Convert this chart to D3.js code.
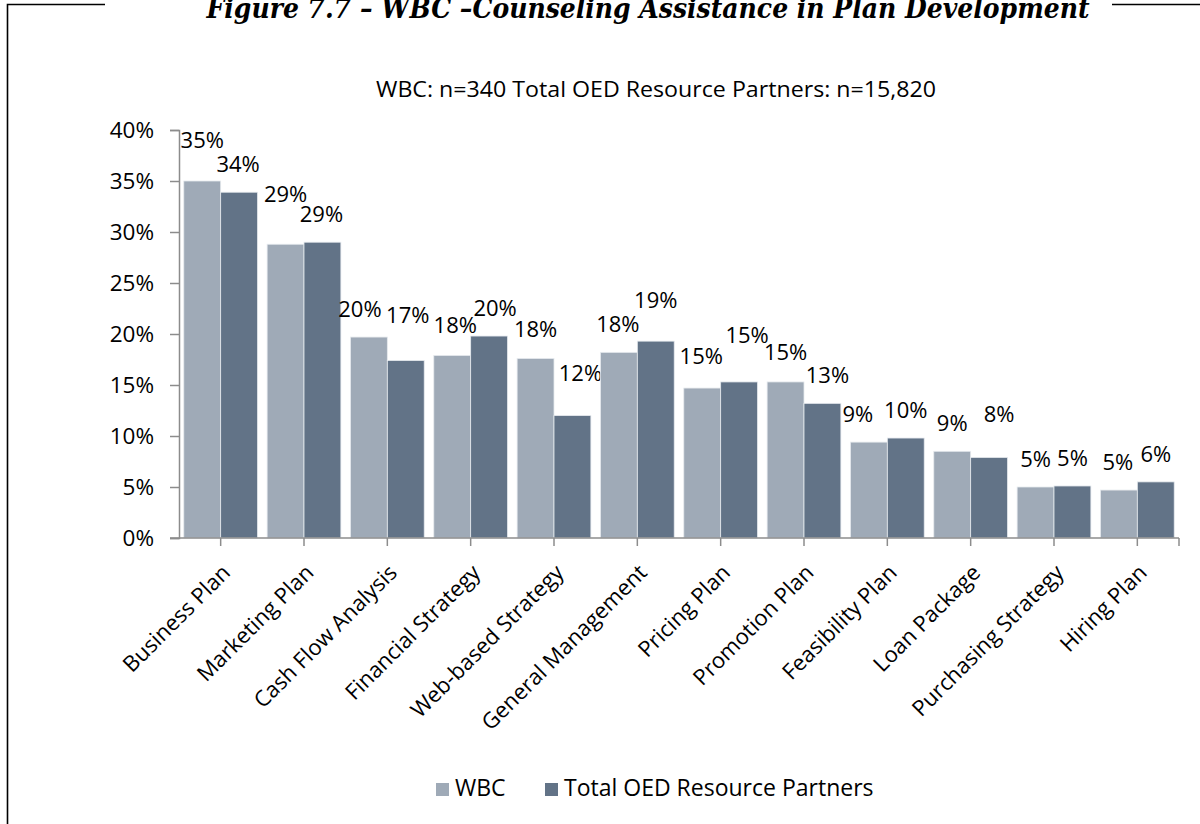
<!DOCTYPE html>
<html>
<head>
<meta charset="utf-8">
<script src="https://cdn.jsdelivr.net/npm/d3@7/dist/d3.min.js"></script>
<style>
  html, body { margin: 0; padding: 0; background: #fff; }
  svg { display: block; }
  text { font-family: "Open Sans", "Noto Sans", sans-serif; fill: #000; }
</style>
</head>
<body>
<svg id="chart" width="1200" height="824"></svg>
<script>
// Plan-development counseling shares, in percent
const categories = ["Business Plan", "Marketing Plan", "Cash Flow Analysis", "Financial Strategy",
  "Web-based Strategy", "General Management", "Pricing Plan", "Promotion Plan",
  "Feasibility Plan", "Loan Package", "Purchasing Strategy", "Hiring Plan"];
const seriesNames = ["WBC", "Total OED Resource Partners"];
const wbcValues   = [35.0, 28.8, 19.7, 17.9, 17.6, 18.2, 14.7, 15.3, 9.4, 8.5, 5.0, 4.7];
const totalValues = [33.9, 29.0, 17.4, 19.8, 12.0, 19.3, 15.3, 13.2, 9.8, 7.9, 5.1, 5.5];
const yTicks = [0, 5, 10, 15, 20, 25, 30, 35, 40];

const titleText = "Figure 7.7 \u2013 WBC \u2013Counseling Assistance in Plan Development";
const subtitleText = "WBC: n=340 Total OED Resource Partners: n=15,820";

// hand-placed data-label nudges (px) relative to the default spot above each bar
const wbcLabelShift   = [[0,-13],[0,-22],[-9,0],[3,-2],[0,-1],[-1,0],[-1,-4],[0,-2],[-11,0],[0,0],[0,0],[-1,0]];
const totalLabelShift = [[-1,0],[-1,0],[2,-18],[6,0],[8,-15],[0,-13],[8,-19],[5,0],[0,0],[10,-15],[0,0],[0,0]];

const colors = ["#9faab7", "#627387"];
const axisColor = "#8c8c8c";

const svg = d3.select("#chart");
svg.append("rect").attr("width", 1200).attr("height", 824).attr("fill", "#fff");

// frame around the figure, broken by the title
const frame = svg.append("g").attr("stroke", "#000").attr("stroke-width", 1.6).attr("fill", "none");
frame.append("path").attr("d", "M105,4.5 H7.5 V824");
frame.append("path").attr("d", "M1112,4.5 H1200");

svg.append("text")
  .attr("x", 648).attr("y", 18)
  .attr("text-anchor", "middle")
  .style("font-family", "'DejaVu Serif', 'Liberation Serif', serif")
  .style("font-weight", "bold").style("font-style", "italic")
  .style("font-size", "28px")
  .attr("textLength", 883).attr("lengthAdjust", "spacingAndGlyphs")
  .text(titleText);

svg.append("text")
  .attr("x", 656).attr("y", 97)
  .attr("text-anchor", "middle")
  .style("font-size", "22px")
  .attr("textLength", 560).attr("lengthAdjust", "spacingAndGlyphs")
  .text(subtitleText);

const plot = { left: 179, right: 1179, top: 130, bottom: 538 };

const x0 = d3.scaleBand().domain(categories).range([plot.left, plot.right]).paddingInner(0).paddingOuter(0);
const x1 = d3.scaleBand().domain(seriesNames).range([0, x0.bandwidth()]).paddingInner(0).paddingOuter(0.13);
const y = d3.scaleLinear().domain([0, 40]).range([plot.bottom, plot.top]);

const rows = categories.map((c, i) => ({ cat: c, vals: [wbcValues[i], totalValues[i]] }));
const shifts = [wbcLabelShift, totalLabelShift];

// bars
const groups = svg.append("g").selectAll("g").data(rows).join("g")
  .attr("transform", d => `translate(${x0(d.cat)},0)`);

groups.selectAll("rect").data(d => d.vals.map((v, k) => ({ v, k })))
  .join("rect")
  .attr("x", d => x1(seriesNames[d.k]))
  .attr("y", d => y(d.v))
  .attr("width", x1.bandwidth())
  .attr("height", d => y(0) - y(d.v))
  .attr("fill", d => colors[d.k])
  .attr("stroke", "#e6eaee").attr("stroke-width", 0.8);

// value labels
groups.each(function (d, i) {
  d3.select(this).selectAll("text.val").data(d.vals.map((v, k) => ({ v, k })))
    .join("text").attr("class", "val")
    .attr("x", e => x1(seriesNames[e.k]) + x1.bandwidth() / 2 + shifts[e.k][i][0])
    .attr("y", e => y(e.v) - 20 + shifts[e.k][i][1])
    .attr("text-anchor", "middle")
    .style("font-size", "22px")
    .text(e => Math.round(e.v) + "%");
});

// y axis
const yAxis = svg.append("g").attr("transform", `translate(${plot.left},0)`)
  .call(d3.axisLeft(y).tickValues(yTicks).tickSize(9).tickPadding(16).tickFormat(v => v + "%"));
yAxis.select(".domain").attr("stroke", axisColor).attr("stroke-width", 1.5);
yAxis.selectAll(".tick line").attr("stroke", axisColor).attr("stroke-width", 1.5);
yAxis.selectAll(".tick text").style("font-size", "22.5px").style("font-family", "'Open Sans', sans-serif").attr("fill", "#000");

// x axis: baseline with ticks at the category centres and the right end
const xAxisG = svg.append("g");
xAxisG.append("line")
  .attr("x1", plot.left - 9).attr("x2", plot.right)
  .attr("y1", y(0)).attr("y2", y(0))
  .attr("stroke", axisColor).attr("stroke-width", 1.5);
const tickXs = categories.map(c => x0(c) + x0.bandwidth() / 2).concat([plot.right]);
xAxisG.selectAll("line.t").data(tickXs).join("line").attr("class", "t")
  .attr("x1", d => d).attr("x2", d => d)
  .attr("y1", y(0)).attr("y2", y(0) + 8)
  .attr("stroke", axisColor).attr("stroke-width", 1.5);

xAxisG.selectAll("text.cat").data(categories).join("text").attr("class", "cat")
  .attr("transform", c => `translate(${x0(c) + x0.bandwidth() / 2 + 11},${y(0) + 36}) rotate(-45)`)
  .attr("text-anchor", "end")
  .style("font-size", "22px")
  .text(c => c);

// legend
const legend = svg.append("g").attr("transform", "translate(436,783)");
const items = legend.selectAll("g").data(seriesNames).join("g")
  .attr("transform", (d, i) => `translate(${i === 0 ? 0 : 109},0)`);
items.append("rect").attr("width", 13).attr("height", 13).attr("y", 0).attr("fill", (d, i) => colors[i]);
items.append("text").attr("x", 19).attr("y", 13).style("font-size", "23px").text(d => d);
</script>
</body>
</html>
